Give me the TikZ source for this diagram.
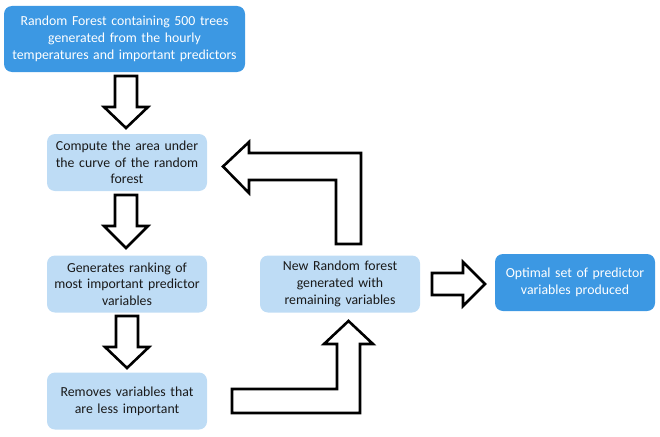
\documentclass[tikz,border=0pt]{standalone}
\usepackage{fontspec}
\setmainfont{Carlito}
\usetikzlibrary{positioning}

\definecolor{darkbox}{HTML}{3C98E3}
\definecolor{lightbox}{HTML}{BEDCF5}

\begin{document}
\begin{tikzpicture}[x=1pt, y=-1pt,
  box/.style={rounded corners=8pt, align=center, inner sep=0pt,
    minimum width=160pt, minimum height=57pt, text width=158pt,
    font=\fontsize{13.8}{16.7}\selectfont},
  mainbox/.style={box, fill=darkbox, text=white},
  stepbox/.style={box, fill=lightbox, text=black!90},
  blockarrow/.style={draw=black, fill=white, line width=2.6pt, line join=miter}]

  \useasboundingbox (0,0) rectangle (660,436);

  % boxes
  \node[mainbox, minimum width=241pt, minimum height=66pt, text width=238pt] (forest) at (124.5,39)
    {Random Forest containing 500 trees\\generated from the hourly\\temperatures and important predictors};
  \node[stepbox] (auc) at (127,162.5) {Compute the area under\\the curve of the random\\forest};
  \node[stepbox] (ranking) at (127,284) {Generates ranking of\\most important predictor\\variables};
  \node[stepbox] (remove) at (127,401) {Removes variables that\\are less important};
  \node[stepbox] (newforest) at (340,284) {New Random forest\\generated with\\remaining variables};
  \node[mainbox] (optimal) at (575,282.5) {Optimal set of predictor\\variables produced};

  % down arrows
  \draw[blockarrow] (115,76) -- (137,76) -- (137,107) -- (148,107) -- (126,128)
    -- (104,107) -- (115,107) -- cycle;
  \draw[blockarrow] (115,195) -- (137,195) -- (137,226) -- (148,226) -- (126,248)
    -- (104,226) -- (115,226) -- cycle;
  \draw[blockarrow] (116,316) -- (138,316) -- (138,347) -- (149,347) -- (127,368)
    -- (105,347) -- (116,347) -- cycle;

  % bent arrows of the loop
  \draw[blockarrow] (232,389) -- (337,389) -- (337,344) -- (324,344) -- (348.5,321)
    -- (373,344) -- (360,344) -- (360,413) -- (232,413) -- cycle;
  \draw[blockarrow] (361,244) -- (336,244) -- (336,180) -- (249,180) -- (249,193)
    -- (223,166.5) -- (249,142) -- (249,153) -- (361,153) -- cycle;

  % right arrow
  \draw[blockarrow] (432,273) -- (463,273) -- (463,262) -- (485,284) -- (463,306)
    -- (463,295) -- (432,295) -- cycle;

\end{tikzpicture}
\end{document}
